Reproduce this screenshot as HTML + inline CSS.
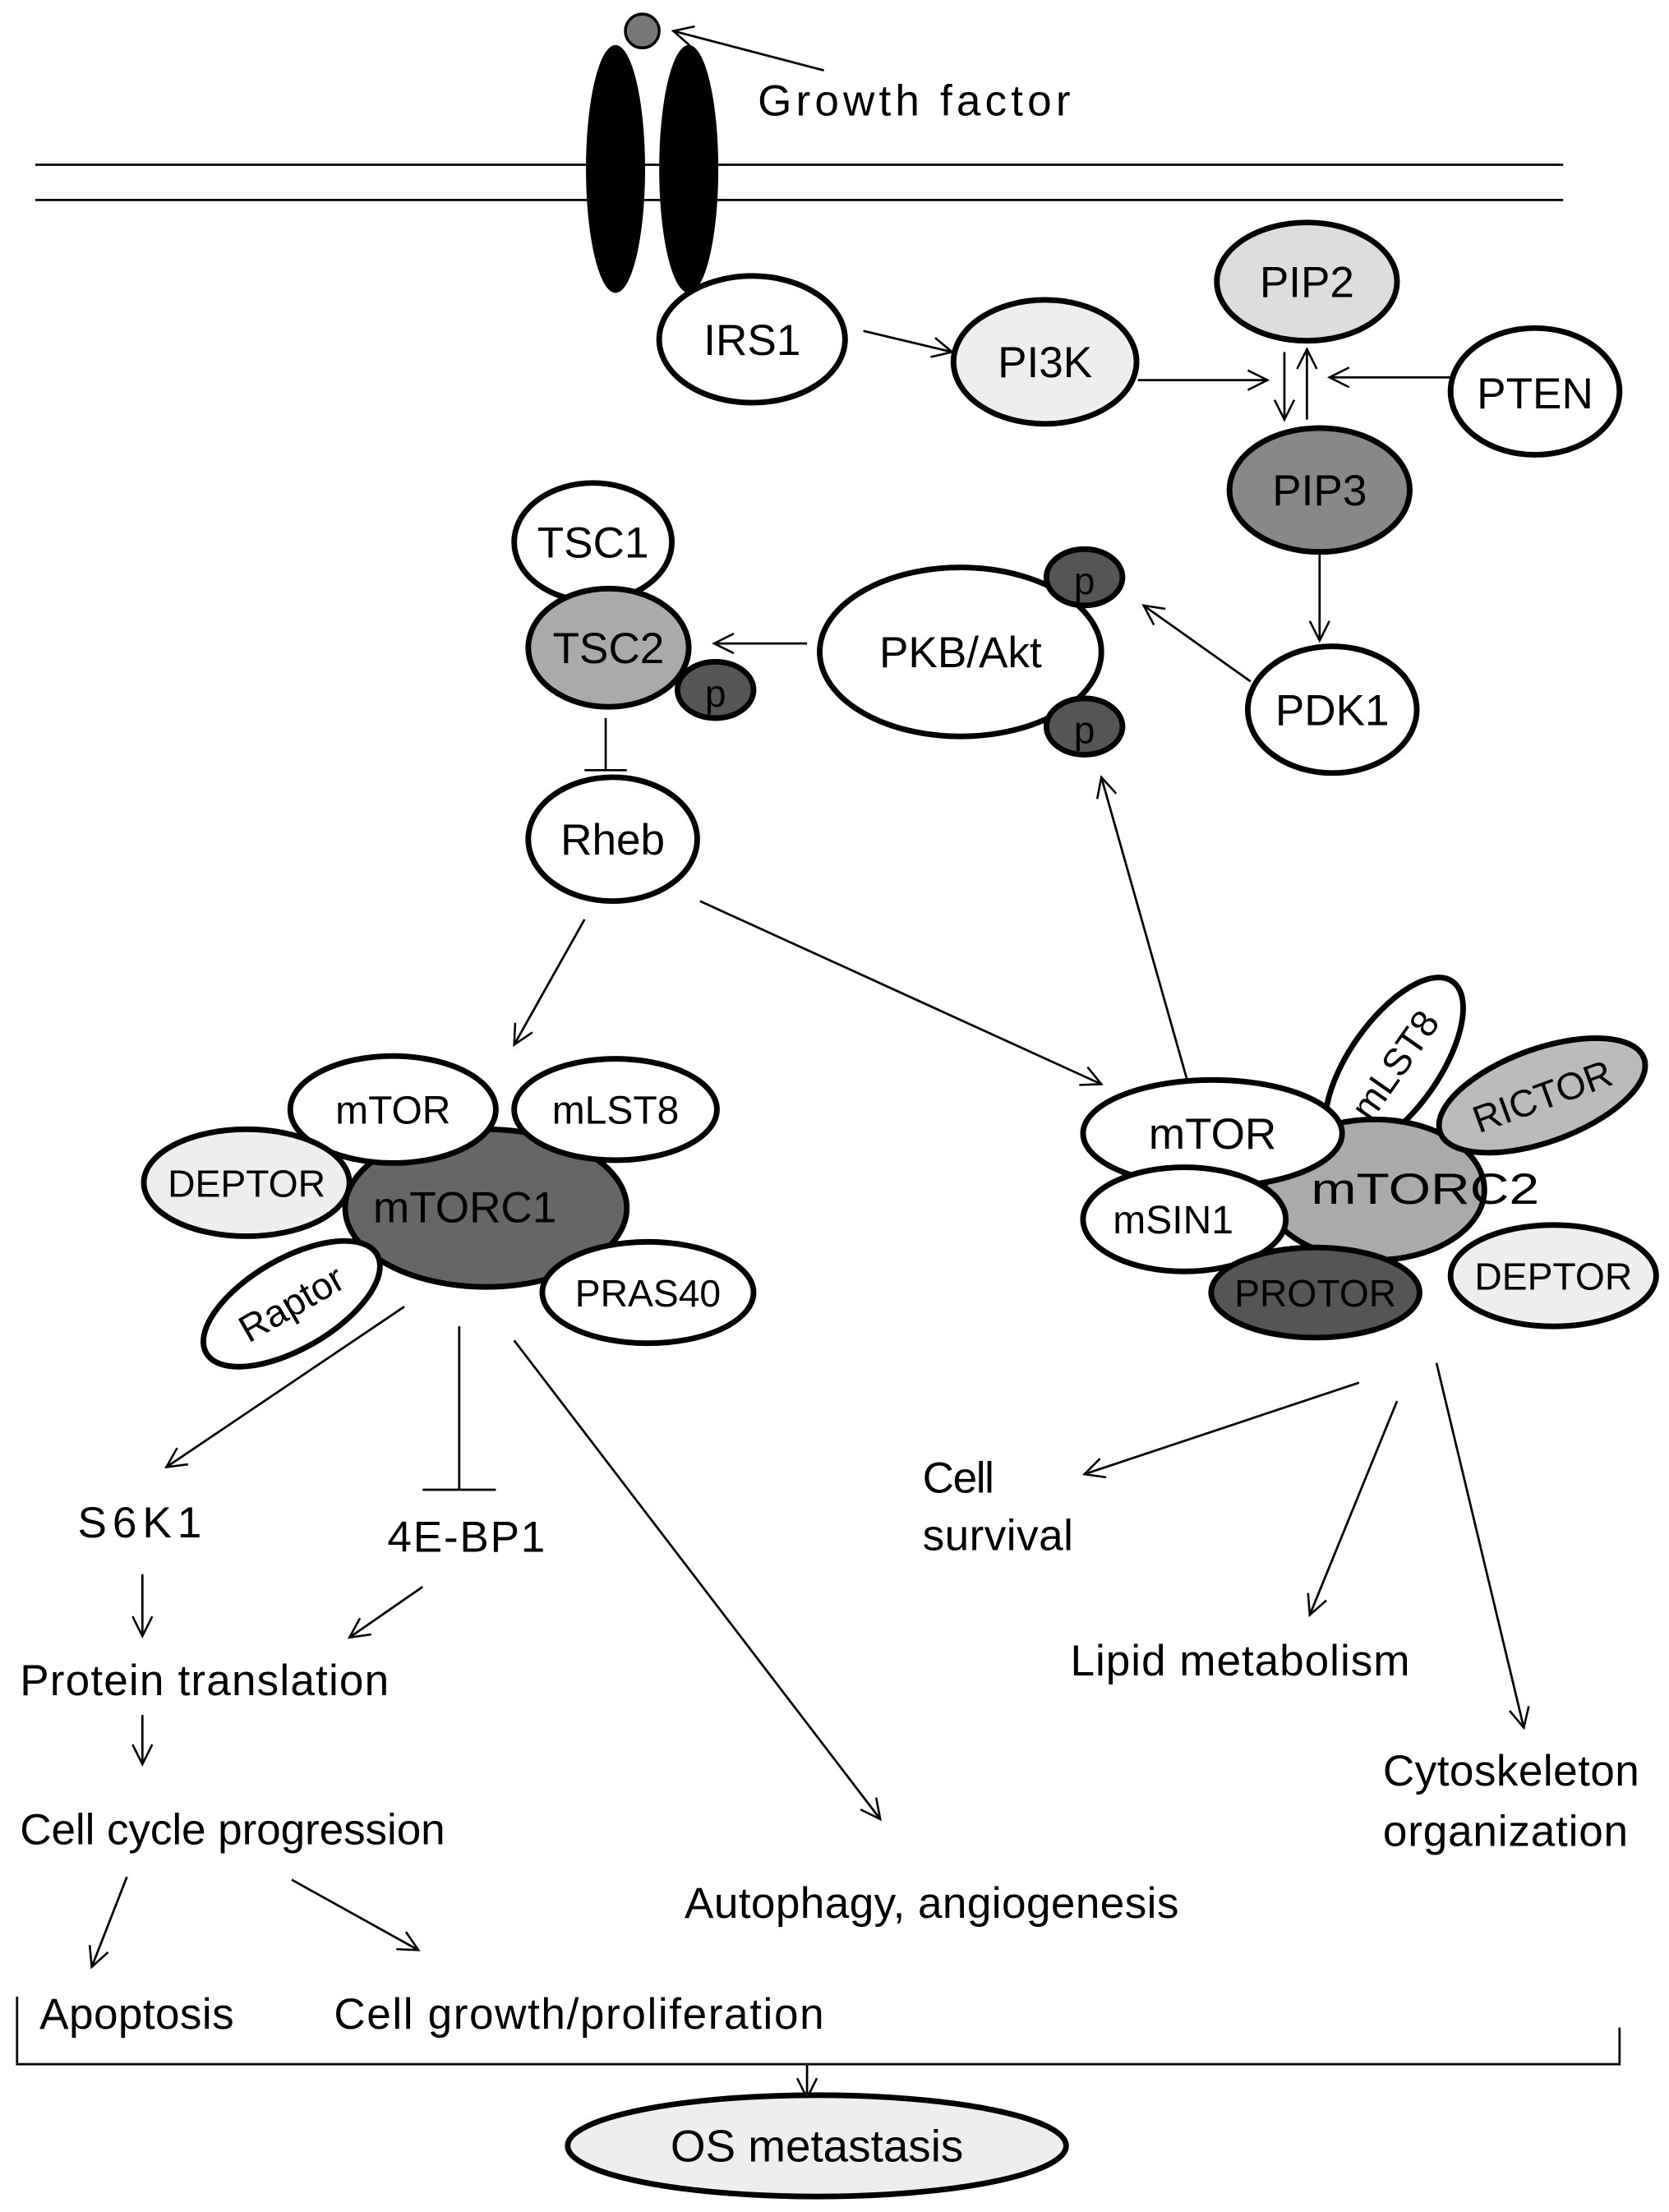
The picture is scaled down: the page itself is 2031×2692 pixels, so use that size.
<!DOCTYPE html>
<html><head><meta charset="utf-8"><style>
html,body{margin:0;padding:0;background:#fff}
svg{display:block}
text{font-family:"Liberation Sans",sans-serif;fill:#000}
</style></head><body>
<svg width="2031" height="2692" viewBox="0 0 1185 1571" xmlns="http://www.w3.org/2000/svg">
<defs>
<marker id="a" markerWidth="20" markerHeight="20" refX="18" refY="10" orient="auto" markerUnits="userSpaceOnUse">
<polyline points="4,3 18,10 4,17" fill="none" stroke="#000" stroke-width="1.5"/>
</marker>
</defs>
<g stroke="#000" stroke-width="1.6" fill="none">
<line x1="25" y1="117" x2="1110" y2="117"/>
<line x1="25" y1="142" x2="1110" y2="142"/>
</g>
<ellipse cx="437" cy="120" rx="21" ry="88" fill="#000"/>
<ellipse cx="489" cy="120" rx="21" ry="88" fill="#000"/>
<circle cx="456" cy="22" r="12" fill="#777" stroke="#000" stroke-width="2"/>
<g stroke="#000" stroke-width="1.6" fill="none" marker-end="url(#a)">
<line x1="585" y1="50" x2="478" y2="22"/>
<line x1="613" y1="235" x2="676" y2="250"/>
<line x1="808" y1="270" x2="900" y2="270"/>
<line x1="1030" y1="268" x2="944" y2="268"/>
<line x1="912" y1="250" x2="912" y2="298"/>
<line x1="928" y1="298" x2="928" y2="248"/>
<line x1="937" y1="393" x2="937" y2="455"/>
<line x1="888" y1="484" x2="812" y2="430"/>
<line x1="573" y1="457" x2="507" y2="457"/>
<line x1="415" y1="653" x2="365" y2="742"/>
<line x1="497" y1="640" x2="782" y2="770"/>
<line x1="848" y1="785" x2="782" y2="552"/>
<line x1="287" y1="928" x2="118" y2="1042"/>
<line x1="365" y1="952" x2="625" y2="1292"/>
<line x1="101" y1="1118" x2="101" y2="1162"/>
<line x1="300" y1="1127" x2="248" y2="1163"/>
<line x1="101" y1="1218" x2="101" y2="1253"/>
<line x1="90" y1="1333" x2="65" y2="1397"/>
<line x1="207" y1="1335" x2="297" y2="1385"/>
<line x1="965" y1="982" x2="770" y2="1047"/>
<line x1="992" y1="995" x2="930" y2="1147"/>
<line x1="1020" y1="968" x2="1082" y2="1227"/>
<line x1="573" y1="1466" x2="573" y2="1490"/>
</g>
<g stroke="#000" stroke-width="1.6" fill="none">
<line x1="430" y1="510" x2="430" y2="547"/><line x1="415" y1="547" x2="445" y2="547"/>
<line x1="326" y1="942" x2="326" y2="1058"/><line x1="300" y1="1058" x2="352" y2="1058"/>
<polyline points="12,1418 12,1466 1150,1466 1150,1440"/>
</g>
<g stroke="#000" stroke-width="4">
<ellipse cx="534" cy="241" rx="66" ry="45" fill="#fff"/>
<ellipse cx="742" cy="257" rx="65" ry="44" fill="#eee"/>
<ellipse cx="928" cy="200" rx="64" ry="42" fill="#ddd"/>
<ellipse cx="1090" cy="278" rx="60" ry="45" fill="#fff"/>
<ellipse cx="937" cy="348" rx="64" ry="44" fill="#888"/>
<ellipse cx="946" cy="504" rx="60" ry="45" fill="#fff"/>
<ellipse cx="682" cy="463" rx="100" ry="60" fill="#fff"/>
<ellipse cx="770" cy="410" rx="27" ry="20" fill="#555"/>
<ellipse cx="770" cy="516" rx="27" ry="20" fill="#555"/>
<ellipse cx="421" cy="385" rx="56" ry="42" fill="#fff"/>
<ellipse cx="432" cy="460" rx="57" ry="42" fill="#aaa"/>
<ellipse cx="508" cy="490" rx="27" ry="20" fill="#555"/>
<ellipse cx="435" cy="596" rx="60" ry="44" fill="#fff"/>
<ellipse cx="345" cy="858" rx="100" ry="56" fill="#666"/>
<ellipse cx="279" cy="788" rx="73" ry="38" fill="#fff"/>
<ellipse cx="437" cy="788" rx="72" ry="36" fill="#fff"/>
<ellipse cx="175" cy="840" rx="73" ry="38" fill="#eee"/>
<ellipse cx="207" cy="926" rx="70" ry="32" fill="#fff" transform="rotate(-30 207 926)"/>
<ellipse cx="460" cy="918" rx="75" ry="36" fill="#fff"/>
<ellipse cx="990" cy="756" rx="72" ry="32" fill="#fff" transform="rotate(-55 990 756)"/>
<ellipse cx="976" cy="845" rx="78" ry="50" fill="#aaa"/>
<ellipse cx="1095" cy="778" rx="77" ry="33" fill="#bbb" transform="rotate(-20 1095 778)"/>
<ellipse cx="861" cy="805" rx="92" ry="38" fill="#fff"/>
<ellipse cx="841" cy="866" rx="72" ry="37" fill="#fff"/>
<ellipse cx="934" cy="918" rx="74" ry="32" fill="#555"/>
<ellipse cx="1103" cy="906" rx="73" ry="36" fill="#eee"/>
<ellipse cx="580" cy="1524" rx="177" ry="36" fill="#eee"/>
</g>
<g font-size="31" text-anchor="middle">
<text x="534" y="252">IRS1</text>
<text x="742" y="268">PI3K</text>
<text x="928" y="211">PIP2</text>
<text x="1090" y="290">PTEN</text>
<text x="937" y="359">PIP3</text>
<text x="946" y="515">PDK1</text>
<text x="682" y="474">PKB/Akt</text>
<text x="770" y="422" font-size="27">p</text>
<text x="770" y="528" font-size="27">p</text>
<text x="508" y="502" font-size="27">p</text>
<text x="421" y="396">TSC1</text>
<text x="432" y="471">TSC2</text>
<text x="435" y="607">Rheb</text>
<text x="330" y="868">mTORC1</text>
<text x="279" y="798" font-size="28">mTOR</text>
<text x="437" y="798" font-size="28">mLST8</text>
<text x="175" y="850" font-size="27">DEPTOR</text>
<text x="207" y="935" font-size="27" transform="rotate(-30 207 926)">Raptor</text>
<text x="460" y="928" font-size="27">PRAS40</text>
<text x="861" y="816">mTOR</text>
<text x="990" y="766" font-size="27" transform="rotate(-55 990 756)">mLST8</text>
<text x="1012" y="855" textLength="162" lengthAdjust="spacingAndGlyphs">mTORC2</text>
<text x="1095" y="788" font-size="27" transform="rotate(-20 1095 778)">RICTOR</text>
<text x="833" y="876" font-size="28">mSIN1</text>
<text x="934" y="928" font-size="27">PROTOR</text>
<text x="1103" y="916" font-size="27">DEPTOR</text>
<text x="580" y="1535" font-size="32">OS metastasis</text>
</g>
<g font-size="31" lengthAdjust="spacingAndGlyphs">
<text x="538" y="82" textLength="222">Growth factor</text>
<text x="55" y="1092" textLength="88">S6K1</text>
<text x="275" y="1102" textLength="112">4E-BP1</text>
<text x="14" y="1204" textLength="262">Protein translation</text>
<text x="14" y="1310" textLength="302">Cell cycle progression</text>
<text x="28" y="1441" textLength="138">Apoptosis</text>
<text x="237" y="1441" textLength="348">Cell growth/proliferation</text>
<text x="486" y="1362" textLength="351">Autophagy, angiogenesis</text>
<text x="655" y="1060" textLength="51">Cell</text>
<text x="655" y="1101" textLength="107">survival</text>
<text x="760" y="1190" textLength="241">Lipid metabolism</text>
<text x="982" y="1268" textLength="182">Cytoskeleton</text>
<text x="982" y="1311" textLength="174">organization</text>
</g>
</svg>
</body></html>
